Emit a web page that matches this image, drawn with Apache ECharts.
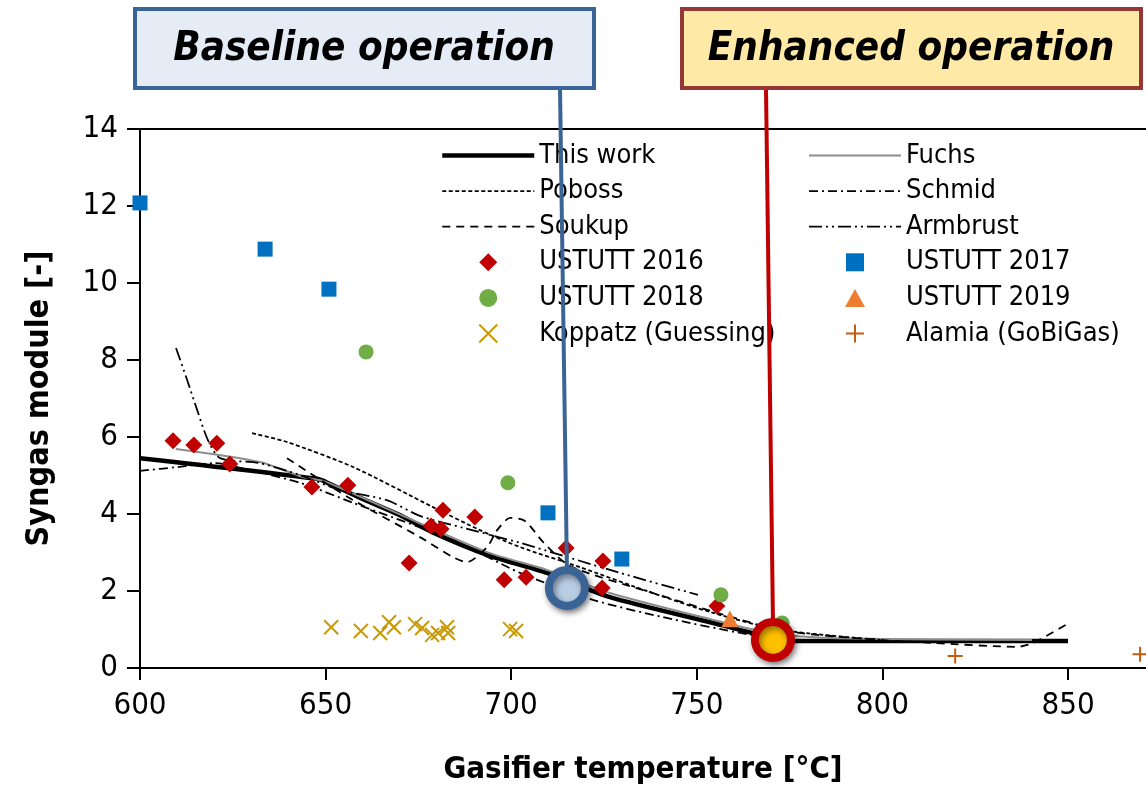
<!DOCTYPE html>
<html><head><meta charset="utf-8">
<script src="https://cdn.jsdelivr.net/npm/echarts@6/dist/echarts.min.js"></script>
<style>html,body{margin:0;padding:0;background:#fff}#c{width:1146px;height:796px}</style>
</head><body><div id="c"></div>
<script>
const FONT = '"Liberation Sans Narrow","DejaVu Sans Condensed","Open Sans",sans-serif';
const xTicks = [600, 650, 700, 750, 800, 850];
const yTicks = [0, 2, 4, 6, 8, 10, 12, 14];

const thisWork = [[600,5.45],[648,4.91],[651.2,4.78],[659.3,4.42],[670,3.97],[678.7,3.53],[693.5,2.94],[709.6,2.47],[726.6,1.84],[754.4,1.17],[765.1,0.91],[776,0.70],[799.4,0.70],[850,0.70]];
const fuchs = [[609.7,5.69],[632.3,5.35],[643.9,4.96],[649.3,4.86],[655.8,4.60],[670,3.99],[693.5,3.01],[709.6,2.55],[726.6,1.95],[754.4,1.25],[769.7,0.91],[785.9,0.78],[840.3,0.73]];
const poboss = [[630.2,6.10],[639.6,5.87],[657.4,5.22],[678.9,4.18],[691.6,3.58],[702.4,3.14],[718.5,2.62],[737.4,1.97],[754.4,1.43],[772.4,0.99],[799.4,0.73]];
const schmid = [[600,5.12],[610.2,5.22],[620.2,5.32],[629.6,5.14],[643.1,4.81],[657.4,4.29],[684.3,3.32],[702.4,2.47],[722,1.77],[740.9,1.32],[763.5,0.88],[777.8,0.70]];
const soukup = [[639.6,5.45],[646.6,5.01],[657.4,4.36],[675.4,3.40],[684.3,2.88],[688.1,2.75],[693.5,3.14],[696.2,3.58],[699.7,3.90],[703.7,3.82],[708.6,3.27],[715.8,2.65],[737.4,1.97],[772.4,0.99],[799.4,0.73],[813.6,0.65],[836.3,0.55],[840.6,0.65],[849.7,1.14]];
const armbrust = [[609.7,8.31],[612.7,7.48],[615.4,6.70],[618.3,5.92],[621.6,5.45],[632.3,5.32],[643.1,5.01],[653.9,4.62],[666.5,4.36],[675.4,3.95],[687,3.64],[702.4,3.25],[729.3,2.47],[750.3,1.90]];

const ustutt2016 = [[608.9,5.90],[614.5,5.79],[620.7,5.84],[624.2,5.30],[646.3,4.70],[656.0,4.75],[681.6,4.10],[678.4,3.69],[681.1,3.61],[690.2,3.92],[672.5,2.73],[698.1,2.29],[704.0,2.36],[714.8,3.12],[724.7,2.78],[724.5,2.08],[755.4,1.61]];
const ustutt2017 = [[600,12.08],[633.7,10.88],[650.9,9.84],[709.9,4.03],[729.8,2.83]];
const ustutt2018 = [[660.9,8.21],[699.1,4.81],[756.5,1.90],[773,1.17]];
const ustutt2019 = [[758.9,1.28]];
const koppatz = [[651.5,1.06],[659.5,0.96],[664.7,0.91],[667.1,1.19],[668.4,1.06],[674.1,1.14],[676.0,1.04],[678.7,0.86],[680.3,0.91],[682.7,1.06],[683.0,0.91],[699.7,1.01],[701.3,0.96]];
const alamia = [[819.6,0.31],[869.4,0.36]];

const baselinePt = [715, 2.08];
const enhancedPt = [770.5, 0.73];

const X_PATH = 'path://M0,0L10,10M10,0L0,10';
const PLUS_PATH = 'path://M5,0L5,10M0,5L10,5';
const DIAMOND_PATH = 'path://M5,0L10,5L5,10L0,5Z';
const SQUARE_PATH = 'path://M0,0L10,0L10,10L0,10Z';
const TRI_PATH = 'path://M5,0L10,9L0,9Z';

function lineSeries(name, data, style) {
  return { name, type: 'line', data, symbol: 'none', smooth: 0.25, z: 3,
    lineStyle: style, itemStyle: { color: style.color, opacity: 1 }, emphasis: { disabled: true } };
}
function scatter(name, data, symbol, size, itemStyle) {
  return { name, type: 'scatter', data, symbol, symbolSize: size, z: 4,
    itemStyle: Object.assign({ opacity: 1 }, itemStyle), emphasis: { disabled: true } };
}

const chart = echarts.init(document.getElementById('c'), null, { renderer: 'canvas' });
const legendText = { fontFamily: FONT, fontSize: 27, color: '#000', lineHeight: 24 };
const legendBase = { orient: 'vertical', top: 137, itemWidth: 92, itemHeight: 18, itemGap: 8.6,
  textStyle: legendText, selectedMode: false, symbolKeepAspect: true };
const LL = (name, w) => ({ name, itemStyle: { opacity: 0 }, lineStyle: { width: w || 1.8 } });
const LS = name => ({ name });

chart.setOption({
  animation: false,
  backgroundColor: '#fff',
  grid: { left: 140, right: 0, top: 129, bottom: 128, containLabel: false },
  legend: [
    Object.assign({ left: 435, data: [LL('This work', 4.5), LL('Poboss'), LL('Soukup'), LS('USTUTT 2016'), LS('USTUTT 2018'), LS('Koppatz (Guessing)')] }, legendBase),
    Object.assign({ left: 803, data: [LL('Fuchs', 2), LL('Schmid'), LL('Armbrust'), LS('USTUTT 2017'), LS('USTUTT 2019'), LS('Alamia (GoBiGas)')] }, legendBase)
  ],
  xAxis: [{
    type: 'value', min: 600, max: 871, interval: 50,
    name: 'Gasifier temperature [°C]', nameLocation: 'middle', nameGap: 86,
    nameTextStyle: { fontFamily: FONT, fontSize: 31, fontWeight: 'bold', color: '#000' },
    axisLine: { show: true, lineStyle: { color: '#000', width: 2 } },
    axisTick: { show: true, length: 12, lineStyle: { color: '#000', width: 2 } },
    axisLabel: { fontFamily: FONT, fontSize: 31, color: '#000', margin: 22, showMaxLabel: false,
      formatter: v => (xTicks.indexOf(v) >= 0 ? String(v) : '') },
    splitLine: { show: false }
  }, {
    type: 'value', position: 'top', min: 600, max: 871,
    axisLine: { show: true, lineStyle: { color: '#000', width: 2 } },
    axisTick: { show: false }, axisLabel: { show: false }, splitLine: { show: false }
  }],
  yAxis: {
    type: 'value', min: 0, max: 14, interval: 2,
    name: 'Syngas module [-]', nameLocation: 'middle', nameGap: 84, nameRotate: 90,
    nameTextStyle: { fontFamily: FONT, fontSize: 32, fontWeight: 'bold', color: '#000' },
    axisLine: { show: true, lineStyle: { color: '#000', width: 2 } },
    axisTick: { show: true, length: 13, lineStyle: { color: '#000', width: 2 } },
    axisLabel: { fontFamily: FONT, fontSize: 31, color: '#000', margin: 22,
      formatter: v => (yTicks.indexOf(v) >= 0 ? String(v) : '') },
    splitLine: { show: false }
  },
  series: [
    lineSeries('This work', thisWork, { color: '#000', width: 4.5 }),
    lineSeries('Fuchs', fuchs, { color: '#8c8c8c', width: 2 }),
    lineSeries('Poboss', poboss, { color: '#000', width: 1.8, type: [4, 2.5] }),
    lineSeries('Schmid', schmid, { color: '#000', width: 1.8, type: [9, 4, 2, 4] }),
    lineSeries('Soukup', soukup, { color: '#000', width: 1.8, type: [8, 6] }),
    lineSeries('Armbrust', armbrust, { color: '#000', width: 1.8, type: [13, 4, 2, 4, 2, 4] }),
    scatter('USTUTT 2016', ustutt2016, DIAMOND_PATH, 17, { color: '#c00000' }),
    scatter('USTUTT 2017', ustutt2017, SQUARE_PATH, 15, { color: '#0070c0' }),
    scatter('USTUTT 2018', ustutt2018, 'circle', 15, { color: '#70ad47' }),
    scatter('USTUTT 2019', ustutt2019, TRI_PATH, 17, { color: '#ed7d31' }),
    scatter('Koppatz (Guessing)', koppatz, X_PATH, 14, { color: 'transparent', borderColor: '#c99a06', borderWidth: 2 }),
    scatter('Alamia (GoBiGas)', alamia, PLUS_PATH, 15, { color: 'transparent', borderColor: '#c55a11', borderWidth: 2 }),
    { name: 'Baseline', type: 'scatter', data: [baselinePt], symbol: 'circle', symbolSize: 36, z: 10,
      itemStyle: { opacity: 1, color: '#b9cde5', borderColor: '#3b6496', borderWidth: 8,
        shadowBlur: 6, shadowColor: 'rgba(0,0,0,0.45)', shadowOffsetX: 2, shadowOffsetY: 3 }, emphasis: { disabled: true } },
    { name: 'Enhanced', type: 'scatter', data: [enhancedPt], symbol: 'circle', symbolSize: 36, z: 10,
      itemStyle: { opacity: 1, color: '#ffc000', borderColor: '#c00000', borderWidth: 8,
        shadowBlur: 6, shadowColor: 'rgba(0,0,0,0.45)', shadowOffsetX: 2, shadowOffsetY: 3 }, emphasis: { disabled: true } }
  ]
});

const bp = chart.convertToPixel({ seriesName: 'Baseline' }, baselinePt);
const ep = chart.convertToPixel({ seriesName: 'Enhanced' }, enhancedPt);

chart.setOption({
  graphic: [
    { type: 'line', z: 6, shape: { x1: 560, y1: 88, x2: bp[0], y2: bp[1] - 21 }, style: { stroke: '#3b6496', lineWidth: 4 } },
    { type: 'line', z: 6, shape: { x1: 766, y1: 88, x2: ep[0], y2: ep[1] - 21 }, style: { stroke: '#c00000', lineWidth: 4 } },
    { type: 'rect', z: 7, shape: { x: 135, y: 9, width: 459, height: 79 },
      style: { fill: '#e5ecf5', stroke: '#3b6496', lineWidth: 4 } },
    { type: 'text', z: 8, x: 364, y: 50,
      style: { text: 'Baseline operation', font: 'italic bold 40px ' + FONT, fill: '#000', align: 'center', verticalAlign: 'middle' } },
    { type: 'rect', z: 7, shape: { x: 682, y: 9, width: 459, height: 79 },
      style: { fill: '#ffe9a6', stroke: '#953735', lineWidth: 4 } },
    { type: 'text', z: 8, x: 911, y: 50,
      style: { text: 'Enhanced operation', font: 'italic bold 40px ' + FONT, fill: '#000', align: 'center', verticalAlign: 'middle' } }
  ]
});
</script></body></html>
